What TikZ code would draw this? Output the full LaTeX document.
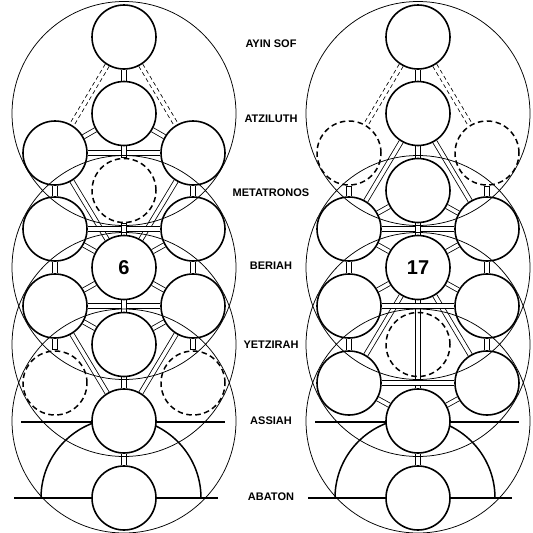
\documentclass[tikz,border=0pt]{standalone}
\usepackage{fontspec}
\setsansfont{Liberation Sans}
\usetikzlibrary{backgrounds}
\tikzset{
  sephira/.style={circle,draw,line width=1.6pt,fill=white,minimum size=64pt,inner sep=0pt,
    font=\sffamily\bfseries\fontsize{20}{20}\selectfont},
  veil/.style={circle,draw,line width=1.5pt,dash pattern=on 5.5pt off 3.5pt,minimum size=64pt,inner sep=0pt},
  orbit/.style={line width=0.75pt},
  ground/.style={line width=1.2pt},
  world/.style={font=\sffamily\bfseries\fontsize{11}{12}\selectfont}
}
% double-walled path; open ends tuck under the filled circles
\newcommand\channel[3][]{%
  \draw[line width=5.2pt] (#2) -- (#3);
  \draw[white,line width=3.6pt,shorten <=-1pt,shorten >=-1pt,#1] (#2) -- (#3);}
\newcommand\veilchannel[3][]{%
  \draw[line width=5.2pt,dash pattern=on 4pt off 3pt] (#2) -- (#3);
  \draw[white,line width=3.6pt,shorten <=-1pt,shorten >=-1pt,#1] (#2) -- (#3);}

\begin{document}
\begin{tikzpicture}[x=1pt,y=-1pt]
  \useasboundingbox (0,0) rectangle (533,533);
  % left ladder
  \node[sephira] (L0) at (124,37) {};
  \node[sephira] (L1) at (124,113.5) {};
  \node[veil] (L2) at (124,190.5) {};
  \node[sephira] (L3) at (124,267.5) {6};
  \node[sephira] (L4) at (124,344.5) {};
  \node[sephira] (L5) at (124,421) {};
  \node[sephira] (L6) at (124,498) {};
  \foreach \s/\x in {a/55,b/193}{
    \node[sephira] (L\s1) at (\x,153) {};
    \node[sephira] (L\s2) at (\x,229) {};
    \node[sephira] (L\s3) at (\x,306) {};
    \node[veil] (L\s4) at (\x,383) {};
  }
  % right ladder
  \node[sephira] (R0) at (418,37) {};
  \node[sephira] (R1) at (418,113.5) {};
  \node[sephira] (R2) at (418,190.5) {};
  \node[sephira] (R3) at (418,267.5) {17};
  \node[veil] (R4) at (418,344.5) {};
  \node[sephira] (R5) at (418,421) {};
  \node[sephira] (R6) at (418,498) {};
  \foreach \s/\x in {a/349,b/487}{
    \node[veil] (R\s1) at (\x,153) {};
    \node[sephira] (R\s2) at (\x,229) {};
    \node[sephira] (R\s3) at (\x,306) {};
    \node[sephira] (R\s4) at (\x,383) {};
  }
  % world circles
  \foreach \c in {124,418}{
    \foreach \y in {113.5,267.5,344.5,421}
      \draw[orbit] (\c,\y) circle (112pt);
  }
  % world names
  \node[world] (ayin) at (271,44) {AYIN SOF};
  \node[world] (atziluth) at (271,119) {ATZILUTH};
  \node[world] (metatronos) at (271,193) {METATRONOS};
  \node[world] (beriah) at (271,266) {BERIAH};
  \node[world] (yetzirah) at (271,345) {YETZIRAH};
  \node[world] (assiah) at (271,421) {ASSIAH};
  \node[world] (abaton) at (271,497) {ABATON};
  \begin{scope}[on background layer]
    % ground lines and vault
    \foreach \c in {124,418}{
      \draw[ground] (\c-103,422) -- (\c+101,422);
      \draw[ground] (\c-110,498) -- (\c+94,498);
      \draw[line width=1.5pt] (\c-83,498) arc[start angle=180,end angle=0,radius=80pt];
    }
    % long paths
    \channel{La1}{L3} \channel{Lb1}{L3}
    \channel{La3}{L5} \channel{Lb3}{L5}
    \veilchannel{L0}{La1} \veilchannel{L0}{Lb1}
    \channel{R1}{Ra2} \channel{R1}{Rb2}
    \channel{R3}{Ra4} \channel{R3}{Rb4}
    \channel{R3}{R5}
    \veilchannel[shorten >=0.9pt]{R0}{Ra1} \veilchannel[shorten >=0.9pt]{R0}{Rb1}
    % cross bars
    \channel{La1}{Lb1} \channel{La2}{Lb2} \channel{La3}{Lb3}
    \channel{Ra2}{Rb2} \channel{Ra3}{Rb3} \channel{Ra4}{Rb4}
    % middle pillar
    \channel{L0}{L1} \channel[shorten >=0.9pt]{L1}{L2} \channel[shorten <=0.9pt]{L2}{L3}
    \channel{L3}{L4} \channel{L4}{L5} \channel{L5}{L6}
    \channel{R0}{R1} \channel{R1}{R2} \channel{R2}{R3} \channel{R5}{R6}
    % side pillars
    \foreach \s in {a,b}{
      \channel{L1}{L\s1} \channel{L3}{L\s2} \channel{L3}{L\s3} \channel{L4}{L\s3}
      \channel{L\s1}{L\s2} \channel{L\s2}{L\s3} \channel[shorten >=0.9pt]{L\s3}{L\s4}
      \channel{R2}{R\s2} \channel{R3}{R\s2} \channel{R3}{R\s3} \channel{R5}{R\s4}
      \channel[shorten <=0.9pt]{R\s1}{R\s2} \channel{R\s2}{R\s3} \channel{R\s3}{R\s4}
    }
  \end{scope}
\end{tikzpicture}
\end{document}
